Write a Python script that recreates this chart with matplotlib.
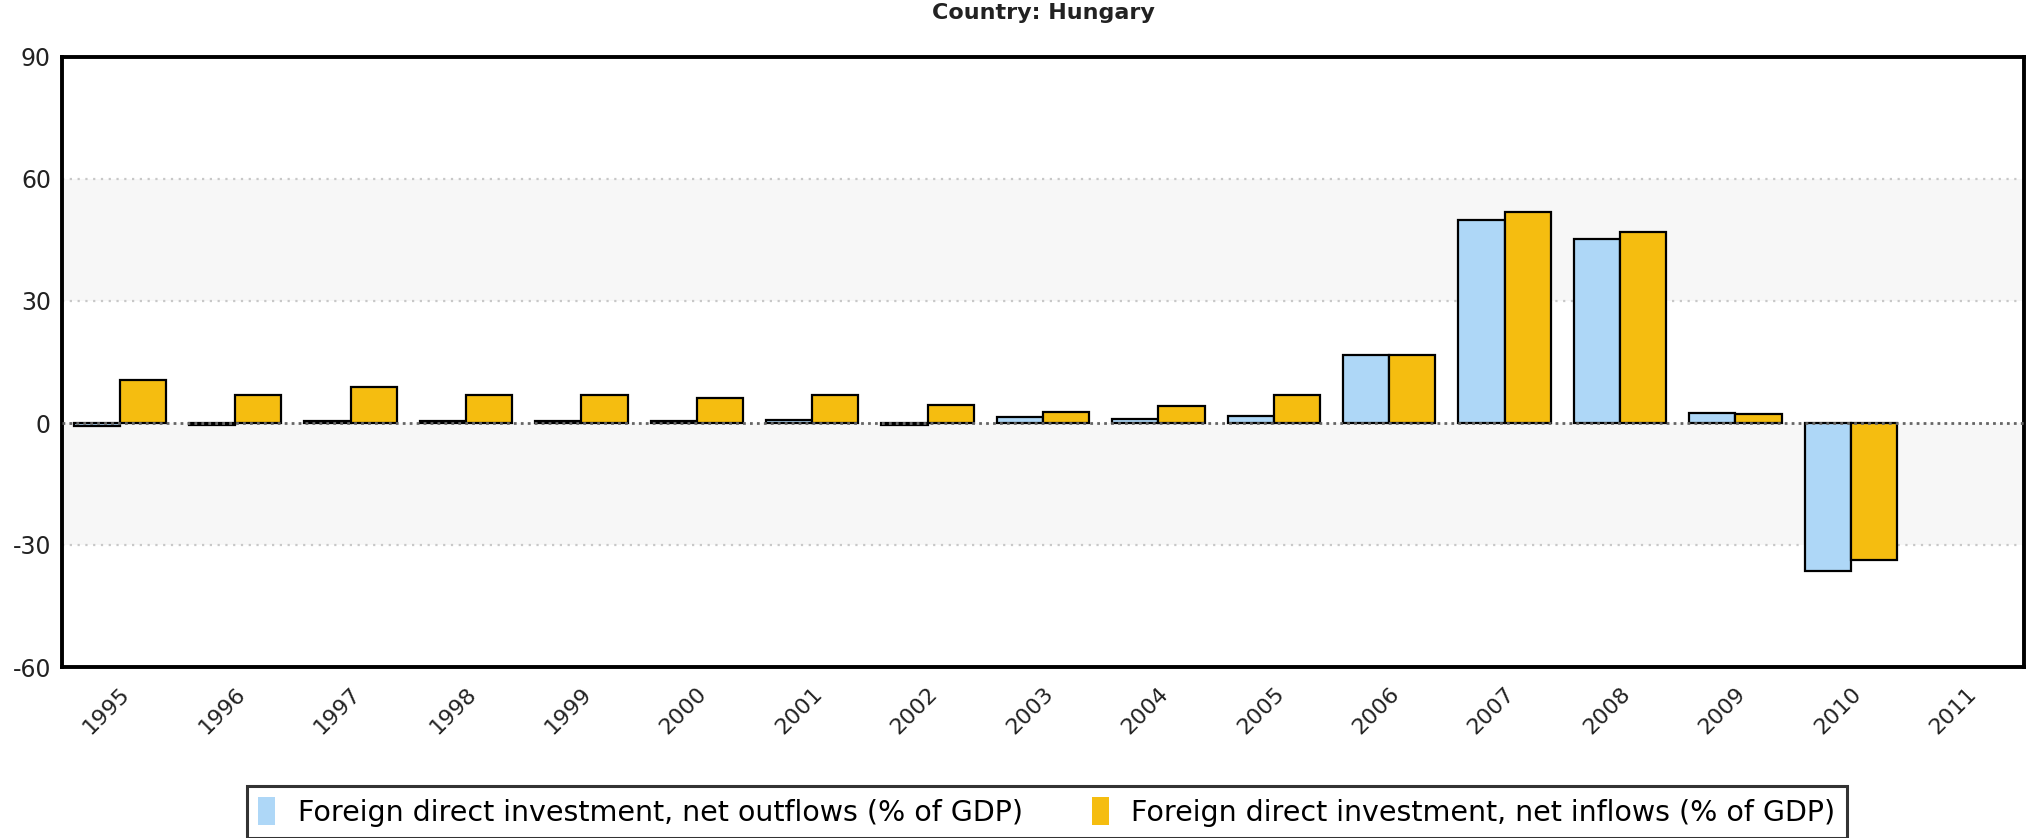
import numpy as np
import matplotlib
matplotlib.use("Agg")
import matplotlib.pyplot as plt

years = ["1995", "1996", "1997", "1998", "1999", "2000", "2001", "2002", "2003",
         "2004", "2005", "2006", "2007", "2008", "2009", "2010", "2011"]
outflows = [-0.8, -0.6, 0.4, 0.5, 0.5, 0.6, 0.7, -0.5, 1.4, 0.9, 1.7, 16.8, 49.8, 45.3, 2.4, -36.4, np.nan]
inflows = [10.5, 6.8, 8.9, 6.8, 6.8, 6.1, 6.9, 4.5, 2.6, 4.3, 6.9, 16.8, 51.9, 47.0, 2.1, -33.8, np.nan]
yticks = [-60, -30, 0, 30, 60, 90]
labels = ["Foreign direct investment, net outflows (% of GDP)",
          "Foreign direct investment, net inflows (% of GDP)"]

blue = "#aed7f7"
orange = "#f5bd10"

fig = plt.figure(figsize=(20.39, 8.38), dpi=100)
ax = fig.add_axes([62/2039, 1-667/838, 1962/2039, 610/838])

x = np.arange(len(years))
w = 0.4

# alternating bands
for lo, hi in [(30, 60), (-30, 0)]:
    ax.axhspan(lo, hi, color="#f7f7f7", zorder=0, lw=0)
for g in [30, 60, -30]:
    ax.axhline(g, color="#c8c8c8", ls=(0, (1, 2.5)), lw=1.6, zorder=1)

ax.bar(x - w/2, outflows, w, color=blue, edgecolor="black", lw=1.6, zorder=2, label=labels[0])
ax.bar(x + w/2, inflows, w, color=orange, edgecolor="black", lw=1.6, zorder=2, label=labels[1])
ax.axhline(0, color="#666666", ls=(0, (1, 1.5)), lw=2.0, zorder=3)

ax.set_xlim(-0.5, len(years) - 0.5)
ax.set_ylim(-60, 90)
ax.set_yticks(yticks)
ax.set_yticklabels([str(t) for t in yticks], fontsize=17, color="#222222")
ax.set_xticks(x)
ax.set_xticklabels(years, rotation=45, ha="right", rotation_mode="anchor",
                   fontsize=16, color="#222222")
ax.tick_params(axis="both", length=0)
ax.tick_params(axis="x", pad=12)
ax.tick_params(axis="y", pad=8)
for s in ax.spines.values():
    s.set_linewidth(2.8)
    s.set_color("black")

fig.text(0.5115, 1 - 13/838, "Country: Hungary", ha="center", va="center",
         fontsize=16, fontweight="bold", color="#222222")

leg = fig.legend(loc="center", bbox_to_anchor=(1047/2039, 1 - 812/838), ncol=2,
                 fontsize=20.5, frameon=True, fancybox=False, handlelength=0.6,
                 handleheight=1.1, handletextpad=0.8, columnspacing=2.4,
                 borderpad=0.4)
leg.get_frame().set_edgecolor("black")
leg.get_frame().set_linewidth(2.2)
for h in leg.legend_handles:
    h.set_edgecolor("none")

fig.savefig("out.png", dpi=100)
